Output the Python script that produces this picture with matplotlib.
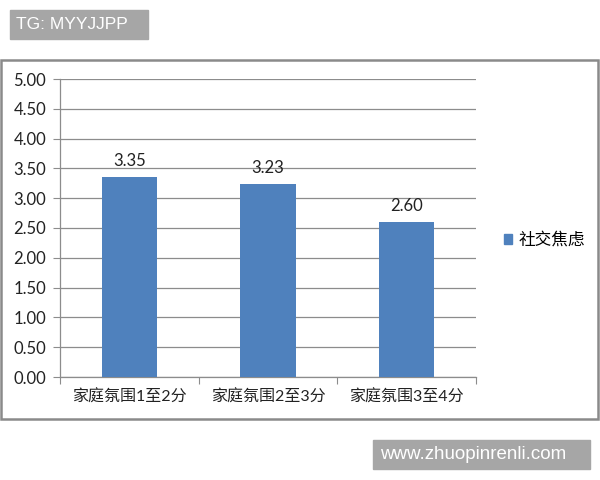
import matplotlib.pyplot as plt
from matplotlib.patches import Rectangle
import numpy as np

plt.rcParams['font.family'] = ['Lato', 'Noto Sans CJK SC', 'DejaVu Sans']

categories = ["家庭氛围1至2分", "家庭氛围2至3分", "家庭氛围3至4分"]
values = [3.35, 3.23, 2.60]
series_name = "社交焦虑"
yticks = [0.0, 0.5, 1.0, 1.5, 2.0, 2.5, 3.0, 3.5, 4.0, 4.5, 5.0]

W, H = 600, 480
fig = plt.figure(figsize=(6, 4.8), dpi=100)

def fx(px):
    return px / W

def fy(py):
    return 1 - py / H

# chart frame
fig.patches.append(Rectangle((fx(1), fy(419)), fx(597), 359 / H, transform=fig.transFigure,
                             fill=False, edgecolor="#8a8a8a", linewidth=1.8))

ax = fig.add_axes([fx(60), fy(377), fx(416), 298 / H])
x = np.arange(len(categories))
ax.bar(x, values, width=0.4, color="#4f81bd", zorder=3)
for xi, v in zip(x, values):
    ax.annotate(f"{v:.2f}", (xi, v), xytext=(0, 6), textcoords="offset points",
                ha="center", va="bottom", fontsize=12, color="#222222")

ax.set_xlim(-0.5, 2.5)
ax.set_ylim(0, 5)
ax.set_yticks(yticks)
ax.set_yticklabels([f"{t:.2f}" for t in yticks], fontsize=12, color="#222222")
ax.yaxis.grid(True, color="#8c8c8c", linewidth=0.9, zorder=0)
ax.set_xticks([-0.5, 0.5, 1.5, 2.5])
ax.set_xticklabels([])
ax.set_xticks(x, minor=True)
ax.set_xticklabels(categories, minor=True, fontsize=11.5, color="#222222")
ax.tick_params(axis="x", which="minor", length=0, pad=9)
ax.tick_params(axis="x", which="major", length=5, color="#8c8c8c")
ax.tick_params(axis="y", length=5, color="#8c8c8c", pad=5)
for s in ["top", "right"]:
    ax.spines[s].set_visible(False)
for s in ["left", "bottom"]:
    ax.spines[s].set_color("#8c8c8c")
    ax.spines[s].set_linewidth(0.9)

# legend
leg = fig.legend([Rectangle((0, 0), 1, 1, color="#4f81bd")], [series_name],
                 loc="center left", bbox_to_anchor=(fx(489), fy(240)), frameon=False,
                 fontsize=12, handlelength=0.5, handleheight=0.5, handletextpad=0.35)

# watermark boxes
fig.patches.append(Rectangle((fx(10), fy(39)), fx(138), 29 / H, transform=fig.transFigure,
                             color="#a6a6a6"))
fig.text(fx(16), fy(24.5), "TG: MYYJJPP", color="white", fontsize=12.5,
         family="Liberation Sans", va="center", ha="left")
fig.patches.append(Rectangle((fx(373), fy(469)), fx(217), 29 / H, transform=fig.transFigure,
                             color="#a6a6a6"))
fig.text(fx(380), fy(454.5), "www.zhuopinrenli.com", color="white", fontsize=13.5,
         family="Liberation Sans", va="center", ha="left")

fig.savefig("out.png", dpi=100)
